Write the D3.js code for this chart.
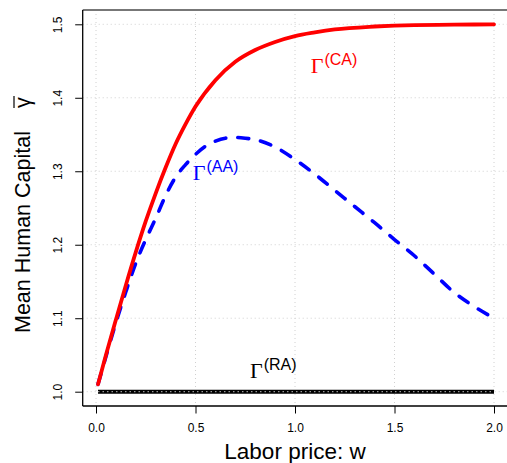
<!DOCTYPE html>
<html>
<head>
<meta charset="utf-8">
<script src="https://cdn.jsdelivr.net/npm/d3@7"></script>
<style>
  html, body { margin: 0; padding: 0; background: #fff; }
  svg { display: block; }
</style>
</head>
<body>
<svg id="chart" width="507" height="463"></svg>
<script>
// ---- data ----
const xTicks = [0.0, 0.5, 1.0, 1.5, 2.0];
const xTickLabels = ["0.0", "0.5", "1.0", "1.5", "2.0"];
const yTicks = [1.0, 1.1, 1.2, 1.3, 1.4, 1.5];
const yTickLabels = ["1.0", "1.1", "1.2", "1.3", "1.4", "1.5"];

const caW = [0.01, 0.05, 0.10, 0.15, 0.20, 0.25, 0.30, 0.35, 0.40, 0.45, 0.50, 0.60, 0.70, 0.80, 0.90, 1.00, 1.10, 1.20, 1.40, 1.60, 1.80, 2.00];
const caValues = [1.010, 1.050, 1.098, 1.145, 1.190, 1.232, 1.270, 1.305, 1.337, 1.364, 1.388, 1.424, 1.449, 1.465, 1.476, 1.484, 1.489, 1.493, 1.497, 1.499, 1.4995, 1.500];

const aaW = [0.01, 0.05, 0.10, 0.15, 0.20, 0.25, 0.30, 0.35, 0.40, 0.45, 0.50, 0.55, 0.60, 0.65, 0.70, 0.75, 0.80, 0.90, 1.00, 1.10, 1.20, 1.30, 1.40, 1.50, 1.60, 1.70, 1.80, 1.90, 2.00];
const aaValues = [1.010, 1.048, 1.094, 1.136, 1.175, 1.207, 1.236, 1.267, 1.292, 1.309, 1.323, 1.334, 1.341, 1.345, 1.346, 1.345, 1.343, 1.333, 1.316, 1.296, 1.274, 1.252, 1.230, 1.207, 1.185, 1.160, 1.135, 1.116, 1.100];

const raW = [0.01, 2.00];
const raValues = [1.0, 1.0];

// ---- layout ----
const svg = d3.select("#chart");
const box = { left: 82.7, top: 10, right: 530, bottom: 406 };
const x = d3.scaleLinear().domain([0, 2]).range([96, 494]);
const y = d3.scaleLinear().domain([1.0, 1.5]).range([391.7, 24.3]);

const sans = "'Liberation Sans', Arial, Helvetica, sans-serif";
const serif = "'Liberation Serif', 'Times New Roman', serif";

// grid
const grid = svg.append("g");
grid.selectAll("line.v").data(xTicks).enter().append("line")
  .attr("x1", d => x(d)).attr("x2", d => x(d))
  .attr("y1", box.top).attr("y2", box.bottom)
  .attr("stroke", "#d0d0d0").attr("stroke-width", 1).attr("stroke-dasharray", "1,3");
grid.selectAll("line.h").data(yTicks).enter().append("line")
  .attr("x1", box.left).attr("x2", box.right)
  .attr("y1", d => y(d)).attr("y2", d => y(d))
  .attr("stroke", "#d0d0d0").attr("stroke-width", 1).attr("stroke-dasharray", "1,3");

// curves
const line = d3.line().x(d => x(d[0])).y(d => y(d[1])).curve(d3.curveMonotoneX);

const raData = raW.map((w, i) => [w, raValues[i]]);
svg.append("path").attr("d", line(raData))
  .attr("fill", "none").attr("stroke", "#000").attr("stroke-width", 4);
svg.append("path").attr("d", line(raData))
  .attr("fill", "none").attr("stroke", "#999").attr("stroke-width", 1.2)
  .attr("stroke-dasharray", "1.5,3");

const aaData = aaW.map((w, i) => [w, aaValues[i]]);
svg.append("path").attr("d", line(aaData))
  .attr("fill", "none").attr("stroke", "#0000ff").attr("stroke-width", 3.6)
  .attr("stroke-linecap", "round").attr("stroke-dasharray", "11,12");

const caData = caW.map((w, i) => [w, caValues[i]]);
svg.append("path").attr("d", line(caData))
  .attr("fill", "none").attr("stroke", "#ff0000").attr("stroke-width", 3.8)
  .attr("stroke-linecap", "round");

// box
svg.append("line").attr("x1", box.left).attr("x2", box.right).attr("y1", box.top).attr("y2", box.top)
  .attr("stroke", "#777").attr("stroke-width", 2);
svg.append("line").attr("x1", box.left).attr("x2", box.left).attr("y1", box.top).attr("y2", box.bottom)
  .attr("stroke", "#000").attr("stroke-width", 1.3);
svg.append("line").attr("x1", box.left).attr("x2", box.right).attr("y1", box.bottom).attr("y2", box.bottom)
  .attr("stroke", "#000").attr("stroke-width", 1.3);

// axes
const xAxis = d3.axisBottom(x).tickValues(xTicks).tickFormat((d, i) => xTickLabels[i])
  .tickSize(7.5).tickPadding(10);
const gx = svg.append("g").attr("transform", `translate(0,${box.bottom})`).call(xAxis);
gx.select(".domain").remove();
gx.selectAll("line").attr("stroke", "#000").attr("stroke-width", 1);
gx.selectAll("text").attr("font-family", sans).attr("font-size", 12).attr("fill", "#000");

const yAxis = d3.axisLeft(y).tickValues(yTicks).tickFormat((d, i) => yTickLabels[i])
  .tickSize(7.5);
const gy = svg.append("g").attr("transform", `translate(${box.left},0)`).call(yAxis);
gy.select(".domain").remove();
gy.selectAll("line").attr("stroke", "#000").attr("stroke-width", 1);
gy.selectAll("text")
  .attr("font-family", sans).attr("font-size", 12).attr("fill", "#000")
  .attr("x", null).attr("dy", null)
  .attr("text-anchor", "middle")
  .attr("transform", "translate(-20.5,0) rotate(-90)");

// axis titles
svg.append("text")
  .attr("x", x(1.0)).attr("y", 459)
  .attr("text-anchor", "middle")
  .attr("font-family", sans).attr("font-size", 22.5).attr("fill", "#000")
  .text("Labor price: w");

const yl = svg.append("g").attr("transform", "translate(30,213) rotate(-90)");
yl.append("text")
  .attr("x", -120).attr("y", 0)
  .attr("font-family", sans).attr("font-size", 21.5).attr("fill", "#000")
  .text("Mean Human Capital");
yl.append("text")
  .attr("x", 105).attr("y", 0)
  .attr("font-family", sans).attr("font-size", 21.5).attr("fill", "#000")
  .text("γ");
yl.append("line").attr("x1", 105).attr("x2", 117).attr("y1", -16).attr("y2", -16)
  .attr("stroke", "#000").attr("stroke-width", 1.2);

// curve labels
function gammaLabel(w, v, sup, color) {
  const t = svg.append("text").attr("x", x(w)).attr("y", y(v)).attr("fill", color);
  t.append("tspan").attr("font-family", serif).attr("font-size", 22).text("Γ");
  t.append("tspan").attr("font-family", sans).attr("font-size", 16).attr("dy", -8).attr("dx", 1).text(sup);
}
gammaLabel(1.079, 1.434, "(CA)", "#ff0000");
gammaLabel(0.486, 1.288, "(AA)", "#0000ff");
gammaLabel(0.774, 1.0186, "(RA)", "#000");
</script>
</body>
</html>
